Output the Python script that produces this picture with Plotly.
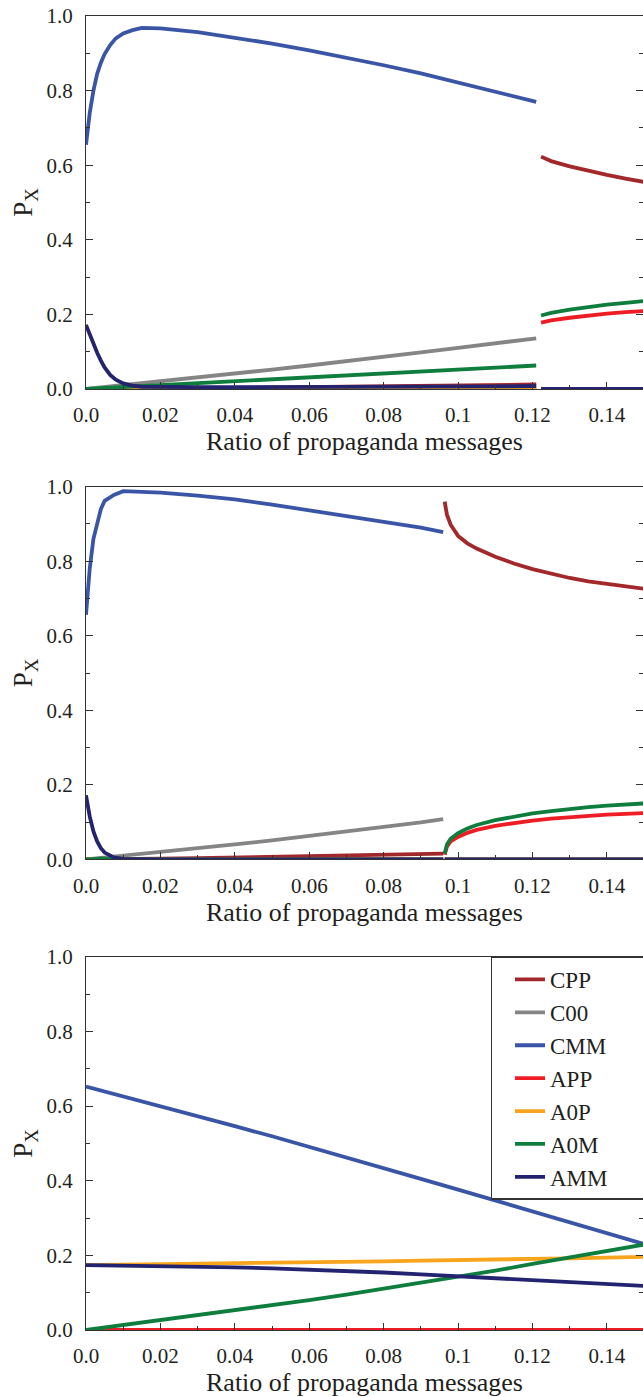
import plotly.graph_objects as go

# ---------------- data ----------------
names = ["CPP", "C00", "CMM", "APP", "A0P", "A0M", "AMM"]
colors = ["#A3282B", "#858585", "#3A55A6", "#EE1D25", "#F8A41C", "#0F7D3E", "#23236F"]

x_ticks = [0.0, 0.02, 0.04, 0.06, 0.08, 0.10, 0.12, 0.14]
x_ticktext = ["0.0", "0.02", "0.04", "0.06", "0.08", "0.1", "0.12", "0.14"]
y_ticks = [0.0, 0.2, 0.4, 0.6, 0.8, 1.0]
y_ticktext = ["0.0", "0.2", "0.4", "0.6", "0.8", "1.0"]

# Panel 1: before the transition
p1a_x = [0, 0.001, 0.002, 0.003, 0.004, 0.005, 0.0065, 0.008, 0.01, 0.0125, 0.015,
         0.02, 0.03, 0.04, 0.05, 0.06, 0.07, 0.08, 0.09, 0.10, 0.11, 0.121]
p1a_CPP = [0, 0, 0, 0, 0, 0, 0, 0, 0, 0.0003, 0.0006, 0.001, 0.002, 0.003, 0.004, 0.005,
           0.006, 0.007, 0.008, 0.009, 0.010, 0.012]
p1a_C00 = [0, 0.001, 0.002, 0.003, 0.004, 0.005, 0.007, 0.009, 0.011, 0.014, 0.016,
           0.021, 0.031, 0.041, 0.052, 0.063, 0.074, 0.086, 0.098, 0.110, 0.122, 0.136]
p1a_CMM = [0.655, 0.74, 0.80, 0.845, 0.875, 0.898, 0.922, 0.940, 0.953, 0.962, 0.968,
           0.967, 0.957, 0.942, 0.926, 0.908, 0.889, 0.868, 0.846, 0.822, 0.798, 0.770]
p1a_APP = [0, 0, 0, 0, 0, 0, 0, 0, 0, 0, 0, 0, 0, 0, 0, 0, 0, 0, 0, 0, 0, 0]
p1a_A0P = [0, 0, 0, 0, 0, 0, 0, 0, 0, 0, 0, 0, 0, 0, 0, 0, 0, 0, 0, 0, 0, 0]
p1a_A0M = [0, 0.0005, 0.001, 0.0015, 0.002, 0.0025, 0.003, 0.004, 0.005, 0.006, 0.0075,
           0.010, 0.015, 0.020, 0.025, 0.030, 0.035, 0.040, 0.045, 0.050, 0.056, 0.063]
p1a_AMM = [0.172, 0.145, 0.120, 0.097, 0.076, 0.058, 0.038, 0.025, 0.015, 0.009, 0.006,
           0.005, 0.005, 0.005, 0.005, 0.005, 0.006, 0.006, 0.006, 0.007, 0.007, 0.008]

# Panel 1: after the transition
p1b_x = [0.1223, 0.125, 0.13, 0.135, 0.14, 0.145, 0.15]
p1b_CPP = [0.623, 0.611, 0.597, 0.585, 0.574, 0.564, 0.555]
p1b_C00 = [0, 0, 0, 0, 0, 0, 0]
p1b_CMM = [0, 0, 0, 0, 0, 0, 0]
p1b_APP = [0.178, 0.184, 0.191, 0.197, 0.202, 0.206, 0.209]
p1b_A0P = [0, 0, 0, 0, 0, 0, 0]
p1b_A0M = [0.197, 0.204, 0.213, 0.220, 0.226, 0.231, 0.236]
p1b_AMM = [0, 0, 0, 0, 0, 0, 0]

# Panel 2: before the transition
p2a_x = [0, 0.001, 0.002, 0.003, 0.004, 0.005, 0.0075, 0.01, 0.02, 0.03, 0.04, 0.05,
         0.06, 0.07, 0.08, 0.09, 0.096]
p2a_CPP = [0, 0, 0, 0, 0, 0, 0, 0.001, 0.002, 0.003, 0.005, 0.006, 0.008, 0.009, 0.011,
           0.013, 0.015]
p2a_C00 = [0, 0.001, 0.002, 0.003, 0.003, 0.004, 0.006, 0.008, 0.018, 0.029, 0.040,
           0.051, 0.063, 0.074, 0.086, 0.099, 0.108]
p2a_CMM = [0.656, 0.78, 0.86, 0.905, 0.94, 0.962, 0.978, 0.988, 0.984, 0.976, 0.966,
           0.952, 0.937, 0.922, 0.907, 0.890, 0.878]
p2a_APP = [0, 0, 0, 0, 0, 0, 0, 0, 0, 0, 0, 0, 0, 0, 0, 0, 0]
p2a_A0P = [0, 0, 0, 0, 0, 0, 0, 0, 0, 0, 0, 0, 0, 0, 0, 0, 0]
p2a_A0M = [0, 0.001, 0.001, 0.002, 0.002, 0.002, 0.001, 0, 0, 0, 0, 0, 0, 0, 0, 0, 0]
p2a_AMM = [0.172, 0.115, 0.075, 0.048, 0.030, 0.018, 0.005, 0.001, 0, 0, 0, 0, 0, 0, 0,
           0, 0]

# Panel 2: after the transition
p2b_x = [0.0964, 0.097, 0.098, 0.1, 0.1025, 0.105, 0.11, 0.115, 0.12, 0.125, 0.13,
         0.135, 0.14, 0.145, 0.15]
p2b_CPP = [0.960, 0.925, 0.898, 0.868, 0.848, 0.834, 0.812, 0.794, 0.779, 0.766, 0.755,
           0.746, 0.739, 0.732, 0.726]
p2b_C00 = [0, 0, 0, 0, 0, 0, 0, 0, 0, 0, 0, 0, 0, 0, 0]
p2b_CMM = [0, 0, 0, 0, 0, 0, 0, 0, 0, 0, 0, 0, 0, 0, 0]
p2b_APP = [0.012, 0.034, 0.048, 0.060, 0.071, 0.079, 0.090, 0.098, 0.104, 0.109, 0.113,
           0.117, 0.120, 0.122, 0.124]
p2b_A0P = [0, 0, 0, 0, 0, 0, 0, 0, 0, 0, 0, 0, 0, 0, 0]
p2b_A0M = [0.015, 0.040, 0.055, 0.070, 0.083, 0.092, 0.105, 0.115, 0.123, 0.129, 0.135,
           0.140, 0.144, 0.147, 0.150]
p2b_AMM = [0, 0, 0, 0, 0, 0, 0, 0, 0, 0, 0, 0, 0, 0, 0]

# Panel 3 (no transition)
p3_x = [0, 0.01, 0.02, 0.03, 0.04, 0.05, 0.06, 0.07, 0.08, 0.09, 0.10, 0.11, 0.12,
        0.13, 0.14, 0.15]
p3_CPP = [0, 0, 0, 0, 0, 0, 0, 0, 0, 0, 0, 0, 0, 0, 0, 0]
p3_C00 = [0, 0, 0, 0, 0, 0, 0, 0, 0, 0, 0, 0, 0, 0, 0, 0]
p3_CMM = [0.652, 0.626, 0.600, 0.573, 0.546, 0.519, 0.491, 0.463, 0.434, 0.405, 0.376,
          0.347, 0.319, 0.289, 0.259, 0.230]
p3_APP = [0, 0, 0, 0, 0, 0, 0, 0, 0, 0, 0, 0, 0, 0, 0, 0]
p3_A0P = [0.174, 0.175, 0.177, 0.178, 0.179, 0.180, 0.181, 0.183, 0.184, 0.186, 0.187,
          0.189, 0.191, 0.192, 0.194, 0.196]
p3_A0M = [0, 0.013, 0.027, 0.040, 0.054, 0.067, 0.080, 0.095, 0.111, 0.126, 0.142,
          0.159, 0.177, 0.194, 0.211, 0.229]
p3_AMM = [0.174, 0.173, 0.172, 0.170, 0.168, 0.165, 0.162, 0.158, 0.154, 0.149, 0.144,
          0.139, 0.133, 0.128, 0.123, 0.118]

# ---------------- figure ----------------
W, H = 643, 1397
FONT = "'Liberation Serif', 'Times New Roman', Times, 'DejaVu Serif', serif"
TXT = "#231F20"
AX = "#333333"
LW = 3.8

panel1_a = [p1a_CPP, p1a_C00, p1a_CMM, p1a_APP, p1a_A0P, p1a_A0M, p1a_AMM]
panel1_b = [p1b_CPP, p1b_C00, p1b_CMM, p1b_APP, p1b_A0P, p1b_A0M, p1b_AMM]
panel2_a = [p2a_CPP, p2a_C00, p2a_CMM, p2a_APP, p2a_A0P, p2a_A0M, p2a_AMM]
panel2_b = [p2b_CPP, p2b_C00, p2b_CMM, p2b_APP, p2b_A0P, p2b_A0M, p2b_AMM]
panel3 = [p3_CPP, p3_C00, p3_CMM, p3_APP, p3_A0P, p3_A0M, p3_AMM]

fig = go.Figure()

def add_split(xa, ya_list, xb, yb_list, xref, yref):
    for name, col, ya, yb in zip(names, colors, ya_list, yb_list):
        fig.add_trace(go.Scatter(
            x=list(xa) + [None] + list(xb), y=list(ya) + [None] + list(yb),
            mode="lines", line=dict(color=col, width=LW), name=name,
            showlegend=False, xaxis=xref, yaxis=yref, connectgaps=False,
            hoverinfo="skip"))

add_split(p1a_x, panel1_a, p1b_x, panel1_b, "x", "y")
add_split(p2a_x, panel2_a, p2b_x, panel2_b, "x2", "y2")
for name, col, ys in zip(names, colors, panel3):
    fig.add_trace(go.Scatter(x=p3_x, y=ys, mode="lines",
                             name=name + "\u2003\u2002",
                             line=dict(color=col, width=LW), showlegend=True,
                             xaxis="x3", yaxis="y3", hoverinfo="skip"))

x_left = 86 / W
panels_px = [(16, 389), (486.7, 859.3), (956.7, 1330)]

def xaxis_cfg(anchor):
    return dict(
        domain=[x_left, 1.0], range=[0, 0.1497], anchor=anchor, automargin=False,
        showline=True, linecolor=AX, linewidth=1.3, mirror=True,
        ticks="inside", ticklen=7, tickwidth=1.3, tickcolor=AX,
        tickvals=x_ticks, ticktext=x_ticktext,
        minor=dict(tickvals=[0.01, 0.03, 0.05, 0.07, 0.09, 0.11, 0.13],
                   ticks="inside", ticklen=4, tickwidth=1.3, tickcolor=AX),
        showgrid=False, zeroline=False,
        tickfont=dict(family=FONT, size=21, color=TXT),
        ticklabelstandoff=7,
        title=dict(text="Ratio of propaganda messages",
                   font=dict(family=FONT, size=26, color=TXT), standoff=5),
    )

def yaxis_cfg(anchor, top, bottom):
    return dict(
        domain=[1 - bottom / H, 1 - top / H], range=[0, 1.0], anchor=anchor,
        automargin=False,
        showline=True, linecolor=AX, linewidth=1.3, mirror="ticks",
        ticks="inside", ticklen=7, tickwidth=1.3, tickcolor=AX,
        tickvals=y_ticks, ticktext=y_ticktext,
        minor=dict(tickvals=[0.1, 0.3, 0.5, 0.7, 0.9],
                   ticks="inside", ticklen=4, tickwidth=1.3, tickcolor=AX),
        showgrid=False, zeroline=False,
        tickfont=dict(family=FONT, size=21, color=TXT),
        ticklabelstandoff=8,
        title=dict(text="P<sub>X</sub>", font=dict(family=FONT, size=27, color=TXT),
                   standoff=5),
    )

fig.update_layout(
    width=W, height=H,
    margin=dict(l=0, r=0, t=0, b=0, autoexpand=False),
    paper_bgcolor="white", plot_bgcolor="white",
    font=dict(family=FONT, color=TXT),
    xaxis=xaxis_cfg("y"), yaxis=yaxis_cfg("x", *panels_px[0]),
    xaxis2=xaxis_cfg("y2"), yaxis2=yaxis_cfg("x2", *panels_px[1]),
    xaxis3=xaxis_cfg("y3"), yaxis3=yaxis_cfg("x3", *panels_px[2]),
    showlegend=True,
    legend=dict(
        x=490.7 / W, y=1 - 956.7 / H, xanchor="left", yanchor="top",
        bgcolor="white", bordercolor=AX, borderwidth=1.3,
        font=dict(family=FONT, size=23, color=TXT),
        indentation=18, tracegroupgap=0,
    ),
)

fig.write_html("out.html")
